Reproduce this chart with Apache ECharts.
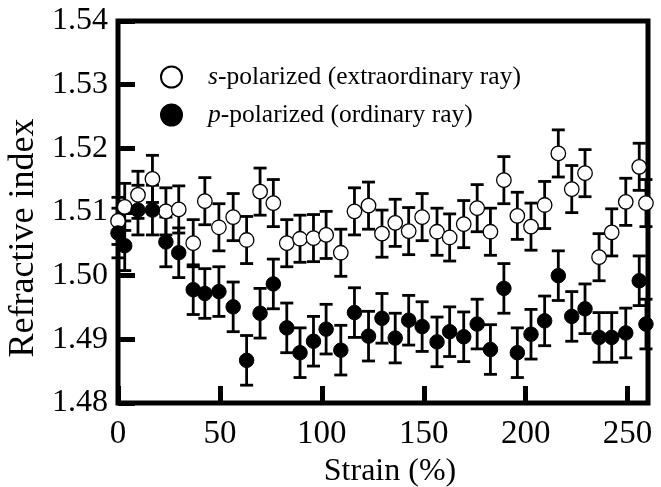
<!DOCTYPE html>
<html>
<head>
<meta charset="utf-8">
<script src="https://cdn.jsdelivr.net/npm/echarts@6/dist/echarts.min.js"></script>
<style>
    html, body {margin: 0; padding: 0; background: #fff;}
    #chart {width: 661px; height: 487px;}
</style>
</head>
<body>
<div id="chart"></div>
<script>
const strain = [0, 3.3, 9.8, 16.9, 23.5, 29.8, 36.9, 42.6, 49.5, 56.5, 63.1, 69.7, 76.2, 82.8, 89.3, 95.9,
    102.1, 109.3, 116, 122.9, 129.5, 136, 142.6, 149.2, 156.5, 162.7, 169.6, 176.2, 182.7, 189.3, 195.9,
    202.6, 209.3, 216, 222.6, 229.1, 236, 242.2, 249.1, 255.7, 259]

// s-polarized (open circles)
const sIndex = [1.5086, 1.5108, 1.5127, 1.5152, 1.5101, 1.5104, 1.5051, 1.5117, 1.5076, 1.5092, 1.5056,
    1.5132, 1.5114, 1.5051, 1.5058, 1.5059, 1.5064, 1.5036, 1.5101, 1.5110, 1.5066, 1.5083, 1.5070,
    1.5092, 1.5069, 1.5060, 1.5081, 1.5106, 1.5069, 1.5150, 1.5094, 1.5077, 1.5111, 1.5192, 1.5136,
    1.5161, 1.5029, 1.5068, 1.5116, 1.5171, 1.5114]

// p-polarized (filled circles)
const pIndex = [1.5067, 1.5047, 1.5103, 1.5103, 1.5053, 1.5036, 1.4978, 1.4972, 1.4975, 1.4951, 1.4867,
    1.4941, 1.4987, 1.4918, 1.4879, 1.4897, 1.4916, 1.4883, 1.4942, 1.4905, 1.4933, 1.4902, 1.4930,
    1.4920, 1.4896, 1.4912, 1.4904, 1.4924, 1.4884, 1.4980, 1.4879, 1.4908, 1.4929, 1.5000, 1.4936,
    1.4948, 1.4903, 1.4903, 1.4910, 1.4992, 1.4924]

// error bar half height
const sErr = 0.0037
const pErr = 0.0039

const xTicks = [0, 50, 100, 150, 200, 250]
const yTicks = [1.48, 1.49, 1.50, 1.51, 1.52, 1.53, 1.54]

const FONT = 'Liberation Serif'

const pairs = (ys) => strain.map((x, i) => [x, ys[i]])

function errorBars(ys, err) {
    return {
        type: 'custom',
        clip: false,
        silent: true,
        z: 2,
        data: strain.map((x, i) => [x, ys[i] - err, ys[i] + err]),
        renderItem: (params, api) => {
            const lo = api.coord([api.value(0), api.value(1)])
            const hi = api.coord([api.value(0), api.value(2)])
            const w = 6.5
            const style = {stroke: '#000', lineWidth: 2.8}
            return {
                type: 'group',
                children: [
                    {type: 'line', shape: {x1: lo[0], y1: lo[1], x2: hi[0], y2: hi[1]}, style: style},
                    {type: 'line', shape: {x1: lo[0] - w, y1: lo[1], x2: lo[0] + w, y2: lo[1]}, style: style},
                    {type: 'line', shape: {x1: hi[0] - w, y1: hi[1], x2: hi[0] + w, y2: hi[1]}, style: style}
                ]
            }
        }
    }
}

const chart = echarts.init(document.getElementById('chart'), null, {renderer: 'canvas'})

const option = {
    backgroundColor: '#fff',
    animation: false,
    textStyle: {fontFamily: FONT, color: '#000'},
    grid: {
        left: 118, right: 13, top: 21, bottom: 84,
        containLabel: false,
        outerBoundsMode: 'none',
        show: true, borderColor: '#000', borderWidth: 5, backgroundColor: 'transparent'
    },
    legend: {
        orient: 'vertical',
        left: 160, top: 64,
        padding: 0,
        itemWidth: 21, itemHeight: 21,
        itemGap: 12,
        icon: 'circle',
        selectedMode: false,
        data: ['s', 'p'],
        formatter: (name) => name === 's'
            ? '{i|s}-polarized (extraordinary ray)'
            : '{i|p}-polarized (ordinary ray)',
        textStyle: {
            fontFamily: FONT, fontSize: 25.5, color: '#000',
            padding: [0, 0, 0, 21],
            rich: {
                i: {fontFamily: FONT, fontSize: 25.5, fontStyle: 'italic', color: '#000'}
            }
        }
    },
    xAxis: {
        type: 'value',
        min: 0, max: 260, interval: 50,
        name: 'Strain (%)',
        nameLocation: 'middle',
        nameGap: 45,
        nameTextStyle: {fontFamily: FONT, fontSize: 32, color: '#000', padding: [0, 0, 0, 14]},
        axisLine: {show: false},
        axisTick: {show: true, inside: true, length: 17, lineStyle: {color: '#000', width: 5}},
        splitLine: {show: false},
        axisLabel: {
            fontFamily: FONT, fontSize: 33, color: '#000', margin: 15,
            showMaxLabel: false,
            formatter: (v) => xTicks.includes(v) ? String(v) : ''
        }
    },
    yAxis: {
        type: 'value',
        min: 1.48, max: 1.54, interval: 0.01,
        name: 'Refractive index',
        nameLocation: 'middle',
        nameGap: 60,
        nameTextStyle: {fontFamily: FONT, fontSize: 36, color: '#000', padding: [0, 52, 0, 0]},
        axisLine: {show: false},
        axisTick: {show: true, inside: true, length: 17, lineStyle: {color: '#000', width: 5}},
        splitLine: {show: false},
        axisLabel: {
            fontFamily: FONT, fontSize: 32, color: '#000', margin: 10,
            formatter: (v) => {
                const t = yTicks.find(k => Math.abs(k - v) < 1e-6)
                return t === undefined ? '' : t.toFixed(2)
            }
        }
    },
    series: [
        errorBars(sIndex, sErr),
        errorBars(pIndex, pErr),
        {
            name: 's',
            type: 'scatter',
            clip: false,
            z: 3,
            symbol: 'circle',
            symbolSize: 14.5,
            itemStyle: {color: '#fff', borderColor: '#000', borderWidth: 1.3, opacity: 1},
            data: pairs(sIndex)
        },
        {
            name: 'p',
            type: 'scatter',
            clip: false,
            z: 4,
            symbol: 'circle',
            symbolSize: 14.5,
            itemStyle: {color: '#000', borderColor: '#000', borderWidth: 1, opacity: 1},
            data: pairs(pIndex)
        }
    ]
}

chart.setOption(option)
</script>
</body>
</html>
